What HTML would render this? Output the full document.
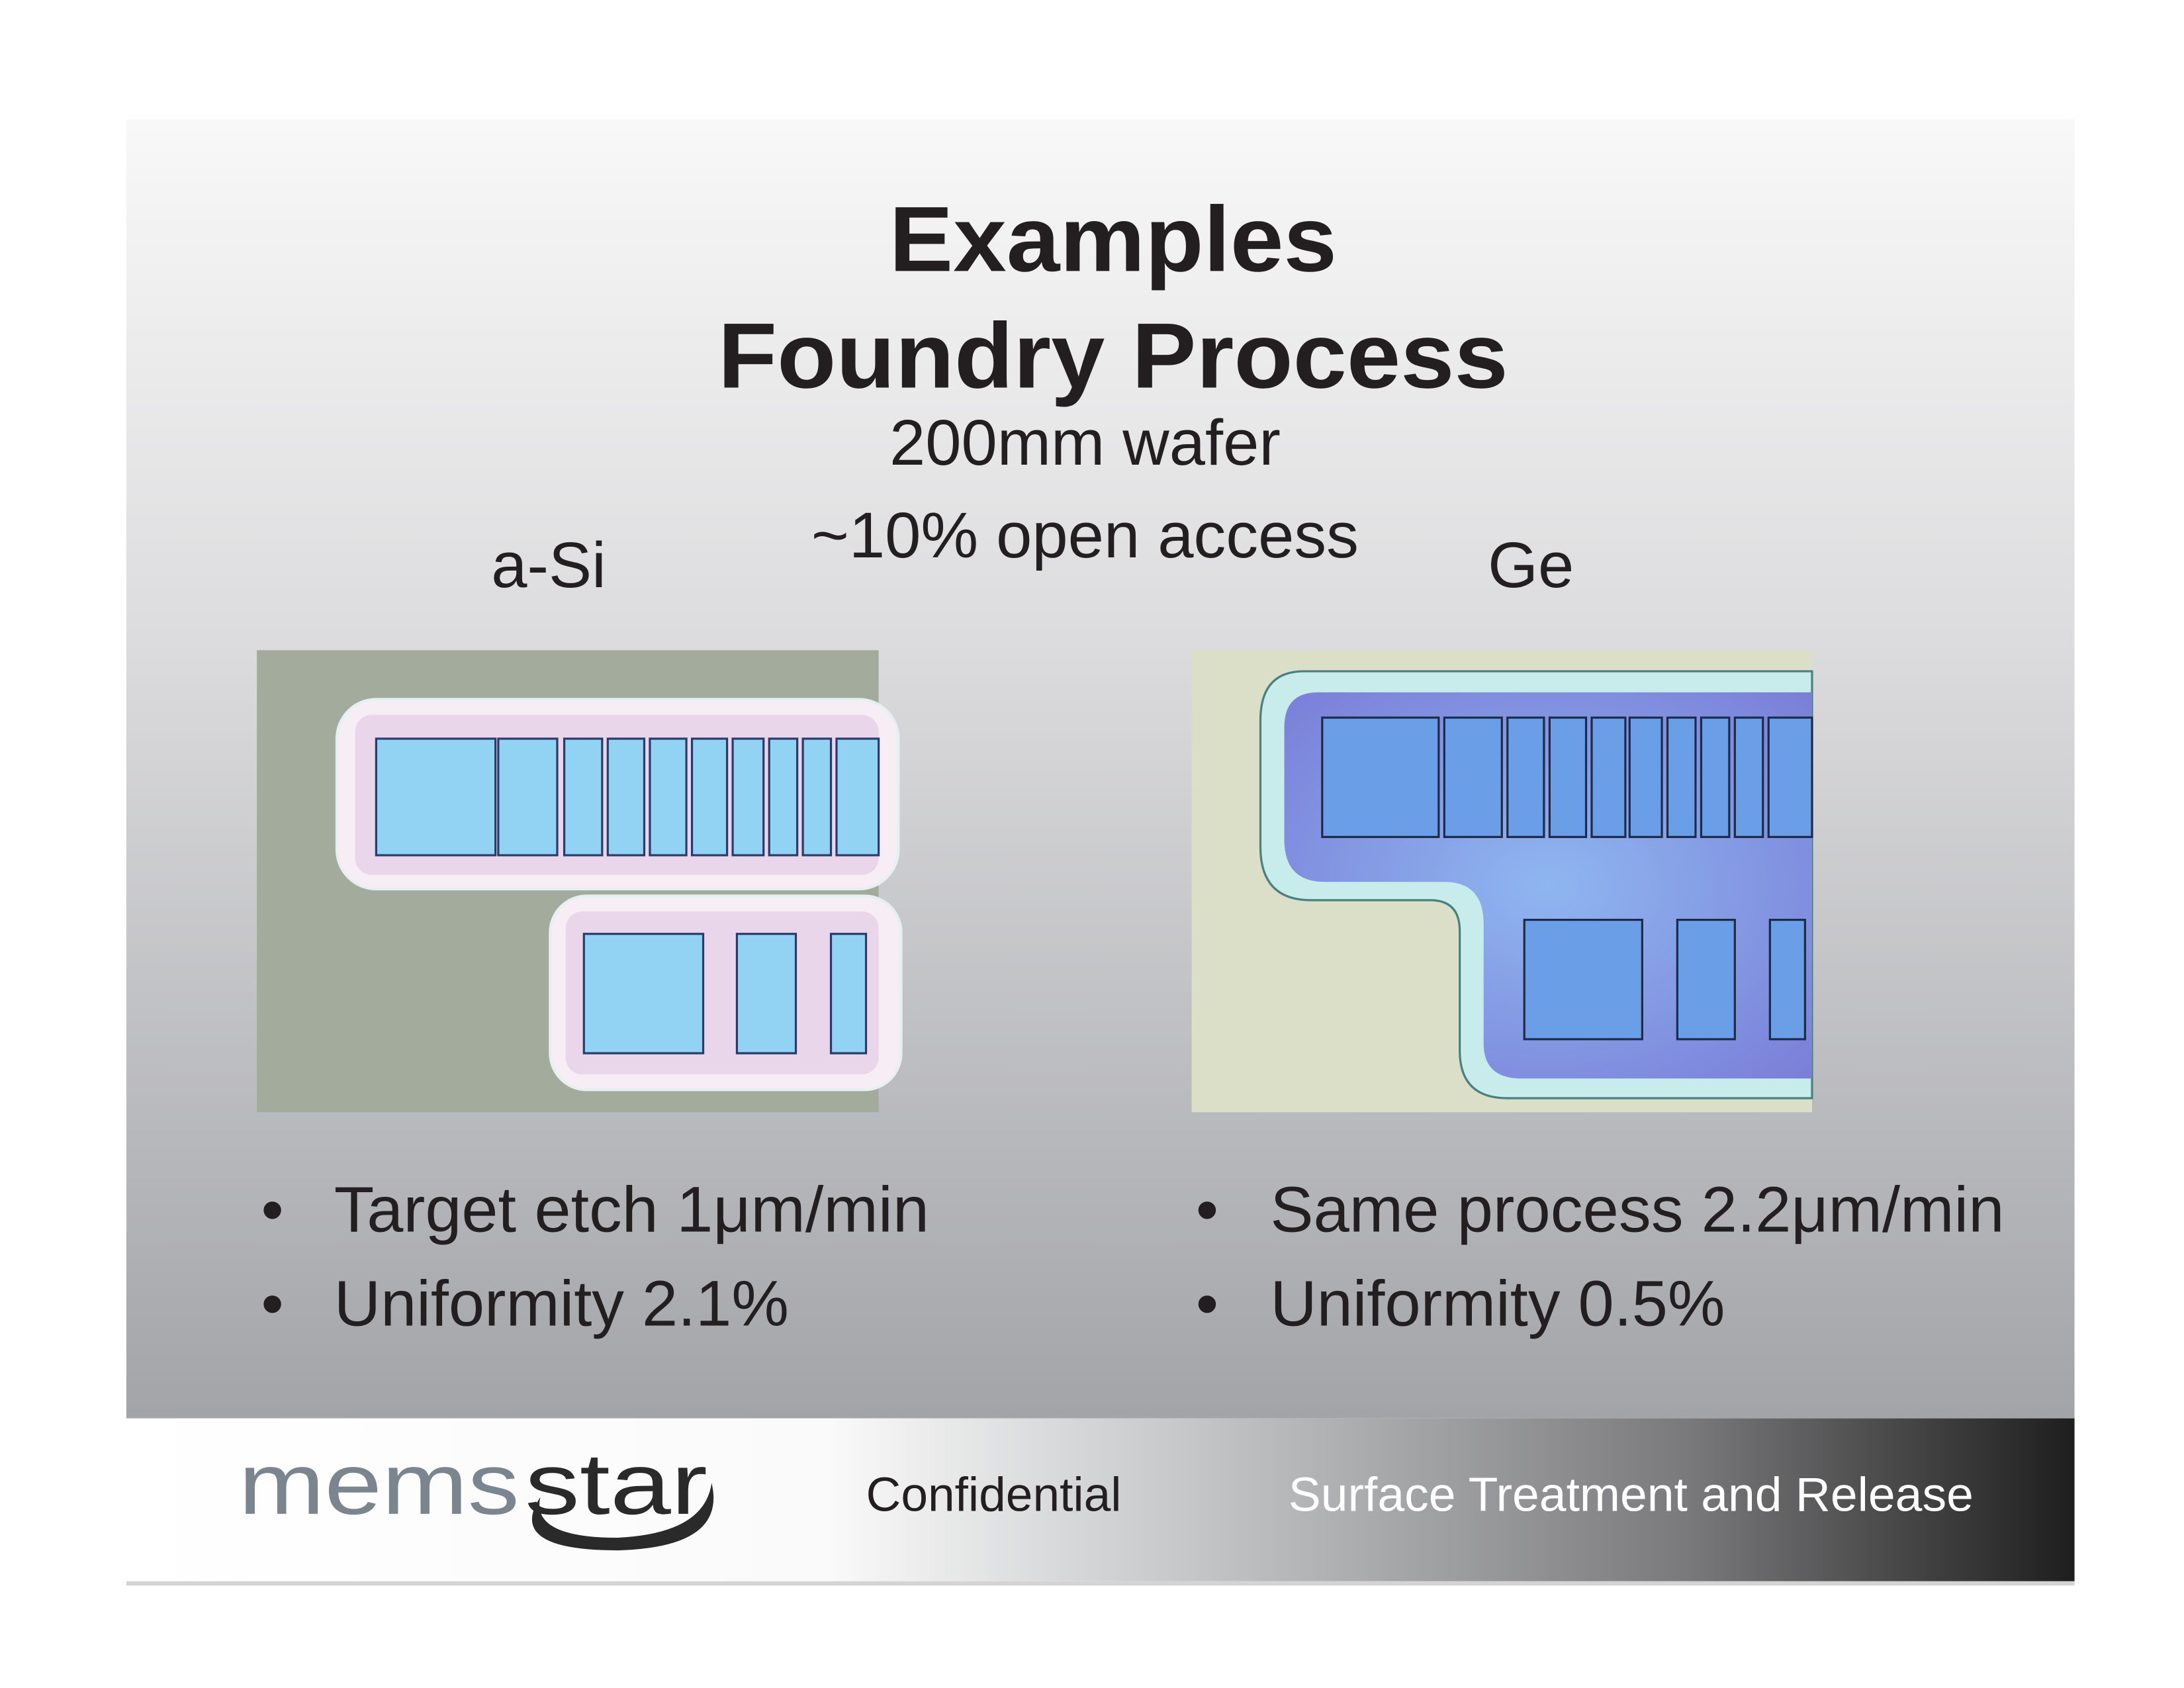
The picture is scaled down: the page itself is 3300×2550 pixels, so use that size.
<!DOCTYPE html>
<html><head><meta charset="utf-8"><style>html,body{margin:0;padding:0;background:#fff}svg{display:block}</style></head>
<body>
<svg width="3300" height="2550" viewBox="0 0 1556 1202" preserveAspectRatio="none" xmlns="http://www.w3.org/2000/svg" font-family="Liberation Sans, Arial, sans-serif">
<defs>
<linearGradient id="bg" x1="0" y1="0" x2="0" y2="1">
<stop offset="0" stop-color="#f8f8f8"/><stop offset="0.4" stop-color="#dcdcde"/><stop offset="1" stop-color="#a3a4a8"/></linearGradient>
<linearGradient id="ft" x1="0" y1="0" x2="1" y2="0">
<stop offset="0" stop-color="#ffffff"/><stop offset="0.36" stop-color="#fafafa"/><stop offset="0.55" stop-color="#c4c5c7"/><stop offset="0.8" stop-color="#7a7a7c"/><stop offset="1" stop-color="#1e1e1e"/></linearGradient>
<radialGradient id="blu" cx="0.5" cy="0.5" r="0.7"><stop offset="0" stop-color="#8fb6f0"/><stop offset="1" stop-color="#7a7fd8"/></radialGradient>
</defs>
<rect x="90" y="85" width="1388" height="925" fill="url(#bg)"/>
<rect x="90" y="1010" width="1388" height="116" fill="url(#ft)"/>
<rect x="90" y="1126" width="1388" height="3" fill="#d4d4d4"/>

<g fill="#231f20" text-anchor="middle">
<text x="793" y="193" font-size="66" font-weight="bold" textLength="319" lengthAdjust="spacingAndGlyphs">Examples</text>
<text x="793" y="276" font-size="66" font-weight="bold" textLength="563" lengthAdjust="spacingAndGlyphs">Foundry Process</text>
<text x="773" y="331" font-size="46">200mm wafer</text>
<text x="773" y="397" font-size="46">~10% open access</text>
</g>
<text x="350" y="418" font-size="46" fill="#231f20">a-Si</text>
<text x="1060" y="418" font-size="46" fill="#231f20">Ge</text>

<!-- left image -->
<g transform="translate(183,463)">
<rect width="443" height="329" fill="#a3ab9d"/>
<rect x="57" y="35" width="400" height="135" rx="28" fill="#f6eef4" stroke="#e6f0f0" stroke-width="2"/>
<rect x="209" y="175" width="250" height="138" rx="26" fill="#f6eef4" stroke="#e6f0f0" stroke-width="2"/>
<rect x="70" y="46" width="373" height="114" rx="12" fill="#ead6ea"/>
<rect x="220" y="186" width="223" height="116" rx="12" fill="#ead6ea"/>
<g fill="#92d2f2" stroke="#2a3a6a" stroke-width="1.5">
<rect x="85" y="63" width="85" height="83"/>
<rect x="172" y="63" width="42" height="83"/>
<rect x="219" y="63" width="27" height="83"/>
<rect x="250" y="63" width="26" height="83"/>
<rect x="280" y="63" width="26" height="83"/>
<rect x="310" y="63" width="25" height="83"/>
<rect x="339" y="63" width="22" height="83"/>
<rect x="365" y="63" width="20" height="83"/>
<rect x="389" y="63" width="20" height="83"/>
<rect x="413" y="63" width="30" height="83"/>
<rect x="233" y="202" width="85" height="85"/>
<rect x="342" y="202" width="42" height="85"/>
<rect x="409" y="202" width="25" height="85"/>
</g>
</g>

<!-- right image -->
<g transform="translate(849,463)">
<rect width="442" height="329" fill="#dcdfc8"/>
<path d="M80 15 H442 V319 H225 Q191 319 191 285 V200 Q191 178 170 178 H85 Q49 178 49 140 V50 Q49 15 80 15 Z" fill="#c8ecec" stroke="#4a8080" stroke-width="1.5"/>
<path d="M90 30 H442 V305 H235 Q208 305 208 280 V195 Q208 165 180 165 H95 Q66 165 66 135 V55 Q66 30 90 30 Z" fill="url(#blu)"/>
<g fill="#6a9ee6" stroke="#1e2a4a" stroke-width="1.5">
<rect x="93" y="48" width="83" height="85"/>
<rect x="180" y="48" width="41" height="85"/>
<rect x="225" y="48" width="26" height="85"/>
<rect x="255" y="48" width="26" height="85"/>
<rect x="285" y="48" width="24" height="85"/>
<rect x="312" y="48" width="23" height="85"/>
<rect x="339" y="48" width="20" height="85"/>
<rect x="363" y="48" width="20" height="85"/>
<rect x="387" y="48" width="20" height="85"/>
<rect x="411" y="48" width="31" height="85"/>
<rect x="237" y="192" width="84" height="85"/>
<rect x="346" y="192" width="41" height="85"/>
<rect x="412" y="192" width="25" height="85"/>
</g>
</g>

<g font-size="46" fill="#231f20">
<text x="186" y="877">•</text><text x="238" y="877" textLength="424" lengthAdjust="spacingAndGlyphs">Target etch 1μm/min</text>
<text x="186" y="944">•</text><text x="238" y="944" textLength="324" lengthAdjust="spacingAndGlyphs">Uniformity 2.1%</text>
<text x="852" y="877">•</text><text x="905" y="877" textLength="523" lengthAdjust="spacingAndGlyphs">Same process 2.2μm/min</text>
<text x="852" y="944">•</text><text x="905" y="944" textLength="324" lengthAdjust="spacingAndGlyphs">Uniformity 0.5%</text>
</g>

<!-- logo -->
<text x="170" y="1078" font-size="62" fill="#7a8590" textLength="200" lengthAdjust="spacingAndGlyphs">mems</text>
<text x="374" y="1078" font-size="62" fill="#2a2a2a" textLength="130" lengthAdjust="spacingAndGlyphs">star</text>
<path d="M385 1066 Q360 1104 440 1104 Q518 1102 507 1056 Q502 1092 440 1095 Q378 1095 385 1066 Z" fill="#2a2a2a"/>

<text x="617" y="1076" font-size="34" fill="#231f20" textLength="182" lengthAdjust="spacingAndGlyphs">Confidential</text>
<text x="918" y="1076" font-size="34" fill="#ffffff" textLength="488" lengthAdjust="spacingAndGlyphs">Surface Treatment and Release</text>
</svg>
</body></html>
